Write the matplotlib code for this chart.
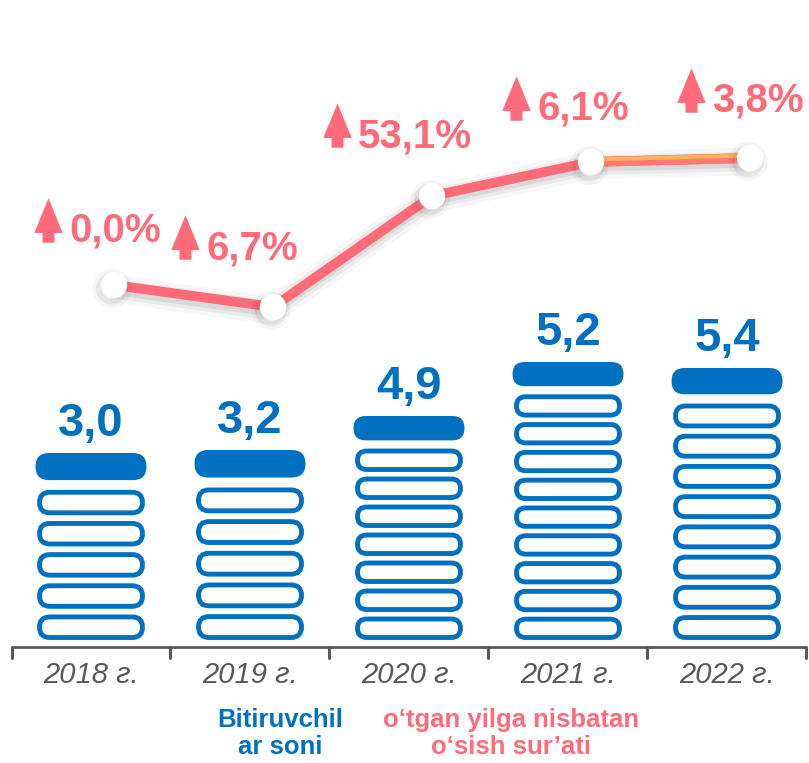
import matplotlib
matplotlib.use('Agg')
import matplotlib.pyplot as plt
import matplotlib.patheffects as pe
import matplotlib.transforms as mtransforms
from matplotlib.patches import FancyBboxPatch
from matplotlib.path import Path

years = ['2018 г.', '2019 г.', '2020 г.', '2021 г.', '2022 г.']
graduates = [3.0, 3.2, 4.9, 5.2, 5.4]            # bar labels
pill_counts = [5, 5, 7, 9, 8]                    # outlined pills below the filled cap
stack_heights = [187, 190, 224, 278, 272]        # pictogram heights as drawn in the picture
growth = [0.0, 6.7, 53.1, 6.1, 3.8]              # % vs previous year
growth_line = [355, 333, 444, 478, 482]          # line levels as drawn in the picture

BLUE = '#0070C0'
PINK = '#FF6B78'
GRAY = '#595959'

plt.rcParams['font.family'] = ['Liberation Sans', 'DejaVu Sans']

W, H = 809, 763
fig = plt.figure(figsize=(W / 100, H / 100), dpi=100)
ax = fig.add_axes([0, 0, 1, 1])
step = 159.0
x0 = -91 / step
ax.set_xlim(x0, x0 + W / step)
ax.set_ylim(-(H - 640), 640)
ax.axis('off')

# aspect fix so the rounded ends stay round (x unit = step px, y unit = 1 px)
m_aspect = step


def pill(xc, ybot, width, height, filled):
    p = FancyBboxPatch((xc - width / 2, ybot), width, height,
                       boxstyle='round,pad=0,rounding_size=%f' % (height / m_aspect / 2),
                       mutation_aspect=m_aspect,
                       facecolor=BLUE if filled else 'white',
                       edgecolor=BLUE, linewidth=0 if filled else 3.5, zorder=3)
    ax.add_patch(p)


for i, (n, h, v) in enumerate(zip(pill_counts, stack_heights, graduates)):
    pitch = h / (n + 1)
    for k in range(n):
        pill(i, k * pitch + 2.5, 103 / step, pitch * 0.66, False)
    cap_h = pitch * 0.87
    pill(i, h - cap_h, 111 / step, cap_h, True)
    ax.text(i, h + 17, f'{v:.1f}'.replace('.', ','), ha='center', va='baseline',
            color=BLUE, fontsize=34, fontweight='bold')

# axis with boundary ticks
xs_edges = [i - 0.5 for i in range(len(years) + 1)]
ax.plot([xs_edges[0], xs_edges[-1]], [-7, -7], color=GRAY, lw=2, solid_capstyle='butt')
for xe in xs_edges:
    ax.plot([xe, xe], [-7, -18], color=GRAY, lw=2.2, solid_capstyle='round')
for i, yr in enumerate(years):
    ax.text(i, -35, yr, ha='center', va='center', fontsize=21, style='italic', color=GRAY)

# growth line
lx = [i + 0.145 for i in range(len(years))]
shadow = [pe.Stroke(linewidth=20, foreground='#000000', alpha=0.03, offset=(-1.5, -2.5)),
          pe.Stroke(linewidth=14, foreground='#000000', alpha=0.05, offset=(-1.5, -2.5)),
          pe.Stroke(linewidth=9, foreground='#000000', alpha=0.07, offset=(-1.5, -2.5)),
          pe.Normal()]
ax.plot(lx, growth_line, color=PINK, lw=7, solid_capstyle='butt', zorder=4,
        path_effects=shadow)
ax.plot(lx[3:], growth_line[3:], color='#FF7A72', lw=7, solid_capstyle='butt', zorder=4.1,
        path_effects=[pe.Normal(),
                      pe.Stroke(offset=(0, 1.8), linewidth=2.8, foreground='#FFB45C')])
ax.plot(lx, growth_line, 'o', ms=19, color='white', mec='white', mew=0, zorder=5,
        path_effects=[pe.Stroke(linewidth=9, foreground='#000000', alpha=0.04, offset=(-1.5, -2.5)),
                      pe.Stroke(linewidth=4, foreground='#000000', alpha=0.06, offset=(-1.5, -2.5)),
                      pe.Normal()])

# arrow glyph
arrow = Path([(-0.27, -1), (0.27, -1), (0.27, -0.56), (0.64, -0.56), (0, 1),
              (-0.64, -0.56), (-0.27, -0.56), (-0.27, -1), (0, 0)],
             [Path.MOVETO] + [Path.LINETO] * 7 + [Path.CLOSEPOLY])

# label offsets from each line point, in pixels (left of text, baseline)
lab_dx = [-45, -67, -74, -54, -38]
lab_dy = [43, 48, 49, 42, 46]
for i, g in enumerate(growth):
    tr = mtransforms.offset_copy(ax.transData, fig, x=lab_dx[i], y=lab_dy[i], units='dots')
    ax.text(lx[i], growth_line[i], f'{g:.1f}%'.replace('.', ','), transform=tr,
            ha='left', va='baseline', fontsize=29, fontweight='bold', color=PINK)
    tra = mtransforms.offset_copy(ax.transData, fig, x=lab_dx[i] - 21, y=lab_dy[i] + 22,
                                  units='dots')
    ax.plot(lx[i], growth_line[i], marker=arrow, ms=32, color=PINK, mew=0, transform=tra)

# legend texts
fig.text(280 / W, 1 - 708 / H, 'Bitiruvchil\nar soni', ha='center', va='top',
         multialignment='center', fontsize=18.5, fontweight='bold', color=BLUE, linespacing=1.15)
fig.text(511 / W, 1 - 708 / H, 'o‘tgan yilga nisbatan\no‘sish sur’ati', ha='center', va='top',
         multialignment='center', fontsize=18.5, fontweight='bold', color=PINK, linespacing=1.15)

fig.savefig('out.png', dpi=100)
